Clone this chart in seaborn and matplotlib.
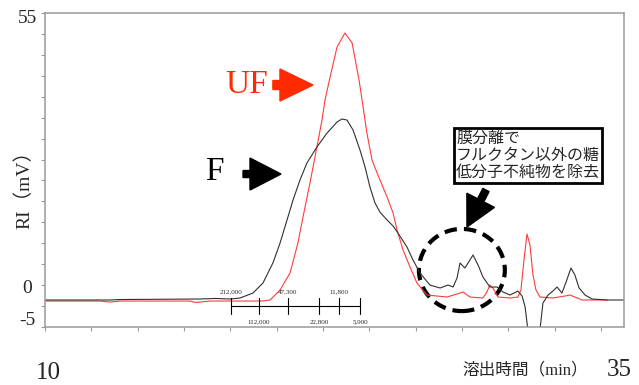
import numpy as np
import matplotlib
matplotlib.use("Agg")
import matplotlib.pyplot as plt
from matplotlib.patches import Ellipse, FancyArrow
from matplotlib.transforms import IdentityTransform
import seaborn as sns

# F (black) chromatogram: elution time (min) vs RI (mV)
f_time = [10.00, 11.08, 12.81, 13.24, 16.69, 17.34, 17.99, 18.42, 18.98, 19.41,
          19.84, 20.15, 20.45, 20.71, 21.01, 21.31, 21.74, 22.18, 22.61, 22.82,
          23.04, 23.30, 23.60, 23.82, 24.03, 24.25, 24.46, 24.77, 25.03, 25.24,
          25.63, 25.89, 26.19, 26.62, 27.06, 27.40, 27.62, 27.79, 27.92, 28.13,
          28.48, 28.70, 28.91, 29.21, 29.52, 29.78, 30.08, 30.42, 30.60, 30.73,
          30.85, 31.03, 31.24, 31.37, 31.50, 31.72, 31.93, 32.11, 32.32, 32.50,
          32.71, 32.88, 33.06, 33.32, 33.62, 34.27, 35.00]
f_signal = [0.16, 0.16, 0.16, 0.25, 0.35, 0.45, 0.35, 0.54, 1.49, 3.40,
            7.23, 11.05, 15.44, 19.27, 23.09, 26.34, 29.39, 32.07, 34.17, 34.74,
            34.55, 32.64, 28.82, 25.57, 21.75, 18.69, 16.97, 15.44, 14.30, 12.96,
            10.28, 7.80, 5.32, 3.02, 2.45, 3.02, 2.64, 4.36, 7.23, 6.27,
            8.75, 6.84, 4.55, 2.64, 2.64, 1.68, 1.11, 1.87, 0.92, -1.18,
            -5.57, -11.0, -11.0, -5.57, -0.42, 1.11, 1.87, 2.64, 1.49, 3.60,
            6.27, 4.93, 2.45, 1.11, 0.35, 0.16, 0.16]

# UF (red) chromatogram
uf_time = [10.00, 12.37, 12.81, 13.24, 16.26, 16.48, 16.69, 17.12, 19.37, 19.72,
           20.15, 20.58, 20.92, 21.14, 21.44, 21.74, 21.96, 22.09, 22.31, 22.61,
           22.95, 23.26, 23.56, 23.69, 23.90, 24.12, 24.34, 24.77, 25.03, 25.20,
           25.46, 25.76, 26.06, 26.49, 27.36, 27.92, 28.05, 28.35, 28.91, 29.08,
           29.21, 29.34, 29.56, 30.08, 30.42, 30.55, 30.68, 30.81, 30.94, 31.07,
           31.20, 31.37, 31.93, 32.45, 32.67, 32.88, 33.19, 34.27]
uf_signal = [-0.04, -0.04, -0.23, -0.04, -0.04, -0.30, -0.23, -0.04, -0.04, 0.16,
             2.07, 5.32, 11.05, 16.02, 22.51, 29.39, 34.55, 38.37, 42.77, 48.50,
             51.18, 49.27, 42.20, 38.37, 32.07, 26.91, 24.42, 19.84, 16.78, 13.53,
             9.71, 6.46, 3.40, 1.11, 0.73, 1.49, 1.68, 0.73, 0.54, 1.68,
             3.02, 2.45, 0.73, 0.54, 0.73, 2.07, 7.80, 12.77, 10.67, 4.93,
             2.07, 0.73, 0.54, 0.92, 1.11, 0.73, 0.16, 0.16]

# molecular weight calibration markers
mw_labels = ["212,000", "112,000", "47,300", "22,800", "11,800", "5,900"]
mw_times = [18.03, 19.24, 20.49, 21.83, 22.69, 23.60]

sns.set_theme(style="white")
serif = ["Liberation Serif", "Noto Sans CJK JP"]
plt.rcParams["font.family"] = ["Noto Sans CJK JP", "DejaVu Sans"]

fig = plt.figure(figsize=(6.39, 3.85), dpi=100)
ax = fig.add_axes([45 / 639, 1 - 327 / 385, 579 / 639, 314 / 385])

sns.lineplot(x=uf_time, y=uf_signal, ax=ax, color="#ff3b3b", linewidth=0.8,
             sort=False, estimator=None)
sns.lineplot(x=f_time, y=f_signal, ax=ax, color="#303030", linewidth=0.8,
             sort=False, estimator=None)

ax.set_xlim(10, 35)
ax.set_ylim(-5, 55)
ax.set_xticks(np.arange(10, 35, 2))
ax.set_yticks(np.arange(-5, 56, 4))
ax.set_xticklabels([])
ax.set_yticklabels([])
ax.tick_params(direction="out", length=3, width=0.8, color="#9a9a9a",
               bottom=True, left=True)
for s in ax.spines.values():
    s.set_color("#9a9a9a")
    s.set_linewidth(1.1)

# axis labels drawn as free text like the original
yt = ax.get_yaxis_transform()
xt = ax.get_xaxis_transform()
for lab, yv in [("55", 54.0), ("0", 2.45), ("-5", -3.67)]:
    ax.text(-0.031, yv, lab, transform=yt, ha="center", va="center",
            fontsize=14, family=serif)
ax.text(-0.035, 22.1, "RI（mV）", transform=yt, rotation=90, ha="center",
        va="center", fontsize=14, family=serif)
ax.text(10.13, -0.146, "10", transform=xt, ha="center", va="center",
        fontsize=18, family=serif)
ax.text(34.78, -0.137, "35", transform=xt, ha="center", va="center",
        fontsize=18, family=serif)
ax.text(30.75, -0.137, "溶出時間（min）", transform=xt, ha="center",
        va="center", fontsize=12, family=serif)

# calibration bar
ax.plot([mw_times[0], mw_times[-1]], [-0.99, -0.99], color="black", lw=0.8)
for i, (t, lab) in enumerate(zip(mw_times, mw_labels)):
    ax.plot([t, t], [0.54, -2.52], color="black", lw=0.8)
    yl = 1.68 if i % 2 == 0 else -4.05
    ax.text(t, yl, lab, ha="center", va="center", fontsize=5, family=serif)

# labels and arrows
ax.text(19.62, 41.3, "UF", color="#ff2a00", fontsize=24, family=serif,
        ha="right", va="center")
ax.text(17.30, 24.6, "F", color="black", fontsize=24, family=serif,
        ha="center", va="center")


def block_arrow(tail, tip, stem, head_w, head_len, color):
    p0 = ax.transData.transform(tail)
    p1 = ax.transData.transform(tip)
    d = p1 - p0
    fig.add_artist(FancyArrow(p0[0], p0[1], d[0], d[1], width=stem,
                              head_width=head_w, head_length=head_len,
                              length_includes_head=True, color=color,
                              transform=IdentityTransform(), clip_on=False))


block_arrow((19.84, 41.24), (21.57, 41.24), 9, 32, 33, "#ff2a00")
block_arrow((18.55, 24.23), (20.19, 24.23), 7, 32, 31, "black")
block_arrow((29.04, 21.18), (28.22, 14.11), 7, 31, 30, "black")

ax.add_patch(Ellipse((28.00, 5.89), 3.71, 15.7, fill=False, ec="black",
                     lw=3, ls=(0, (3, 1.7))))

ax.text(27.75, 32.6, "膜分離で\nフルクタン以外の糖\n低分子不純物を除去",
        ha="left", va="top", fontsize=11.5, linespacing=0.98,
        bbox=dict(boxstyle="square,pad=0.15", fc="white", ec="black", lw=2))

fig.savefig("out.png", dpi=100)
